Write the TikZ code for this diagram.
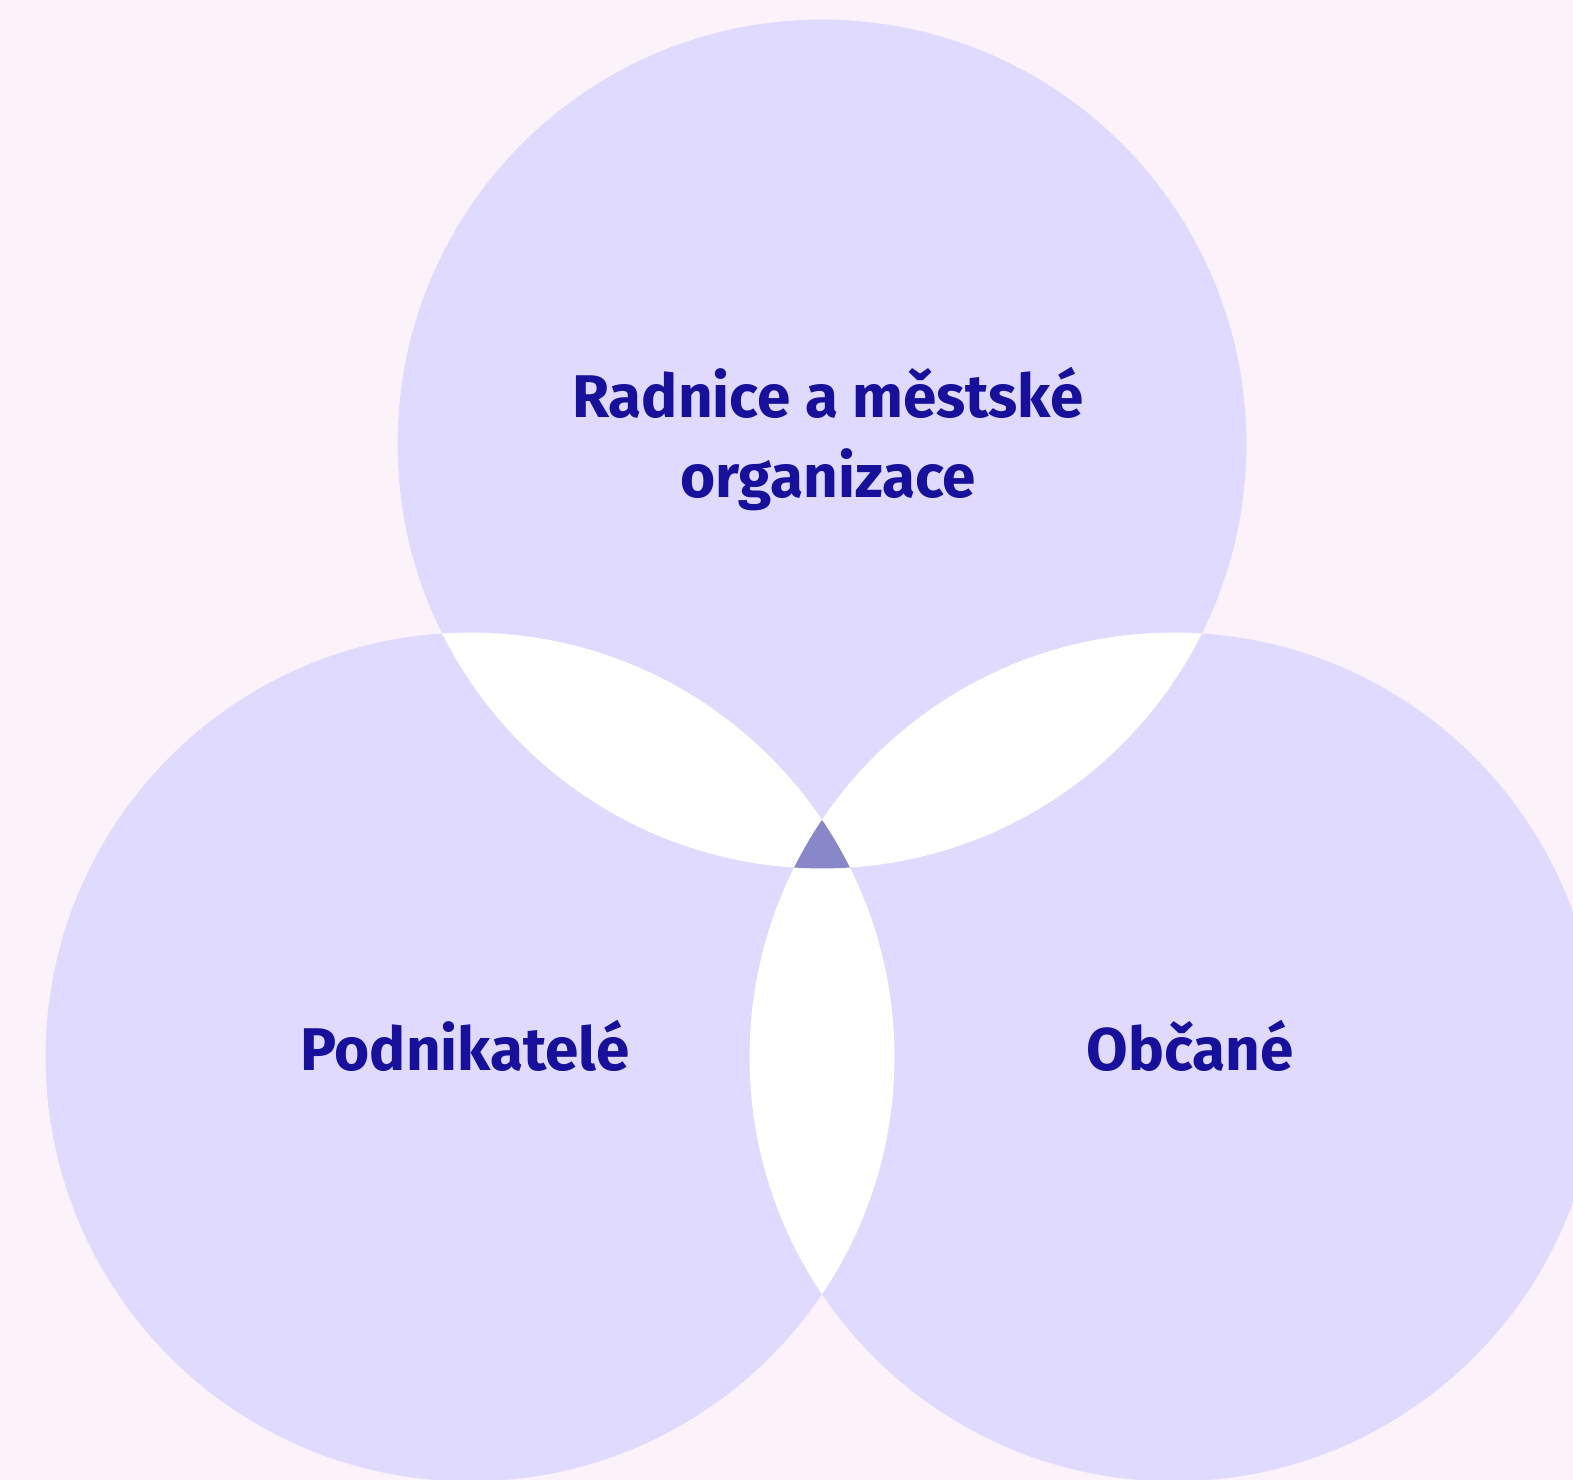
\documentclass[tikz,border=0pt]{standalone}
\usepackage{fontspec}
\setmainfont{Fira Sans}
\definecolor{bgpink}{HTML}{FCF2F9}
\definecolor{circfill}{HTML}{E0DBFE}
\definecolor{tripfill}{HTML}{8787CA}
\definecolor{labblue}{HTML}{16109A}
\tikzset{
  venn/.style={fill=circfill},
  lab/.style={text=labblue, font=\fontsize{34.3}{45}\selectfont\bfseries, align=center, inner sep=0pt}
}
\begin{document}
\begin{tikzpicture}[x=0.02cm,y=-0.02cm]
\fill[bgpink] (0,0) rectangle (1573,1480);
\useasboundingbox (0,0) rectangle (1573,1480);
\coordinate (T) at (822,444);
\coordinate (L) at (470,1057);
\coordinate (R) at (1174,1057);
\def\rr{8.49cm}
\fill[venn] (T) circle (\rr);
\fill[venn] (L) circle (\rr);
\fill[venn] (R) circle (\rr);
\begin{scope}
  \clip (T) circle (\rr);
  \fill[white] (L) circle (\rr);
  \fill[white] (R) circle (\rr);
\end{scope}
\begin{scope}
  \clip (L) circle (\rr);
  \fill[white] (R) circle (\rr);
\end{scope}
\begin{scope}
  \clip (T) circle (\rr);
  \clip (L) circle (\rr);
  \fill[tripfill] (R) circle (\rr);
\end{scope}
\node[lab, anchor=base] (top) at (828,497) {Radnice a městské\\organizace};
\node[lab, anchor=base] (left) at (465,1070) {Podnikatelé};
\node[lab, anchor=base] (right) at (1190,1070) {Občané};
\end{tikzpicture}
\end{document}
